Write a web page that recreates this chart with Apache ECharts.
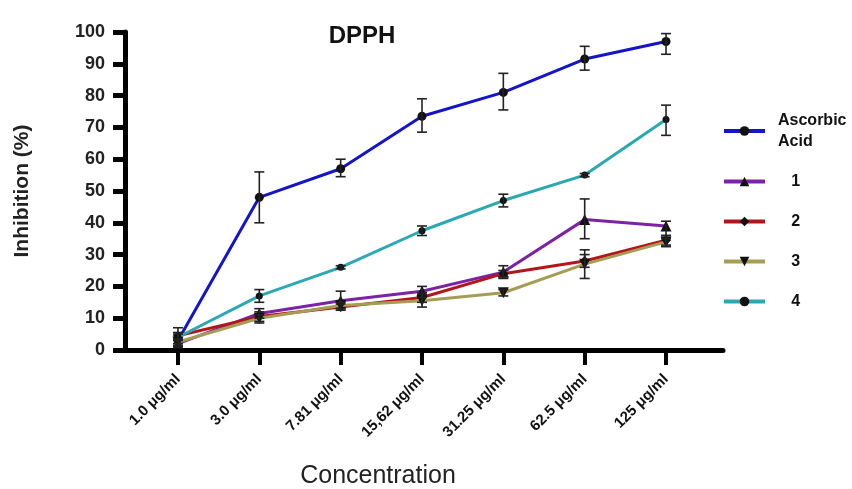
<!DOCTYPE html>
<html><head><meta charset="utf-8">
<script src="https://cdn.jsdelivr.net/npm/echarts@6/dist/echarts.min.js"></script>
<style>html,body{margin:0;padding:0;background:#fff}#c{width:852px;height:489px}</style>
</head><body><div id="c"></div>
<script>
const categories = ['1.0 μg/ml','3.0 μg/ml','7.81 μg/ml','15,62 μg/ml','31.25 μg/ml','62.5 μg/ml','125 μg/ml'];
const yTicks = [0,10,20,30,40,50,60,70,80,90,100];
const seriesNames = ['Ascorbic Acid','1','2','3','4'];
const ascorbic = [3, 48, 57, 73.5, 81, 91.5, 97];
const s1 = [2, 11.5, 15.5, 18.5, 24.5, 41, 39];
const s2 = [4.5, 10.5, 13.5, 16.5, 24, 28, 34.5];
const s3 = [2.5, 10, 14, 15.5, 18, 27, 34];
const s4 = [4, 17, 26, 37.5, 47, 55, 72.5];
const errAscorbic = [[1,5],[40,56],[54.5,60],[68.5,79],[75.5,87],[88,95.5],[93,99.5]];
const err1 = [[1,3],[10,13],[13,18.5],[16.5,20],[22.5,26.5],[35,47.5],[36,40.5]];
const err2 = [[3.5,5.5],[9,12],[12.5,14.5],[15,18],[23,25],[26,30],[33,36]];
const err3 = [[1.5,3.5],[8.5,11],[13,15],[13.5,17.5],[17,19],[22.5,31.5],[32.5,35]];
const err4 = [[2,7],[15,19],[25.5,26.5],[36,39],[45,49],[54.5,55.5],[67.5,77]];

const values = [ascorbic, s1, s2, s3, s4];
const errs = [errAscorbic, err1, err2, err3, err4];
const colors = ['#1414c8','#7b22a6','#b3161a','#a59d55','#2aa9b3'];
const symbols = ['circle','triangle','diamond','path://M0,0 L10,0 L5,9 Z','circle'];
const symSizes = [9, 11, 10, 11, 7];

const chart = echarts.init(document.getElementById('c'));
const series = [];
values.forEach((v, k) => {
  series.push({
    name: seriesNames[k], type: 'line', xAxisIndex: 1, yAxisIndex: 1,
    data: v, symbol: symbols[k], symbolSize: symSizes[k], showAllSymbol: true,
    lineStyle: {color: colors[k], width: 3}, itemStyle: {color: '#111'},
    z: 3 + k, animation: false
  });
  series.push({
    type: 'custom', xAxisIndex: 1, yAxisIndex: 1, z: 10, silent: true,
    data: errs[k].map((e, i) => [i, e[0], e[1]]),
    renderItem: function (params, api) {
      const lo = api.coord([api.value(0), api.value(1)]);
      const hi = api.coord([api.value(0), api.value(2)]);
      const cap = 5;
      const st = {stroke: '#222', lineWidth: 1.6};
      return {type: 'group', children: [
        {type: 'line', shape: {x1: lo[0], y1: lo[1], x2: hi[0], y2: hi[1]}, style: st},
        {type: 'line', shape: {x1: lo[0]-cap, y1: lo[1], x2: lo[0]+cap, y2: lo[1]}, style: st},
        {type: 'line', shape: {x1: hi[0]-cap, y1: hi[1], x2: hi[0]+cap, y2: hi[1]}, style: st}
      ]};
    },
    animation: false
  });
});

const font = 'Liberation Sans, Arial, sans-serif';
chart.setOption({
  backgroundColor: '#fff',
  animation: false,
  title: [
    {text: 'DPPH', left: 357, top: 19, textAlign: 'center',
     textStyle: {fontFamily: font, fontSize: 24, fontWeight: 'bold', color: '#111'}},
    {text: 'Concentration', left: 373, top: 459, textAlign: 'center',
     textStyle: {fontFamily: font, fontSize: 25, fontWeight: 'normal', color: '#222'}}
  ],
  legend: {
    orient: 'vertical', left: 717, top: 105, itemWidth: 41, itemHeight: 12, itemGap: 19,
    data: seriesNames,
    lineStyle: {width: 4},
    formatter: n => n === 'Ascorbic Acid' ? 'Ascorbic\nAcid' : '   ' + n,
    textStyle: {fontFamily: font, fontSize: 16, fontWeight: 'bold', color: '#111', lineHeight: 21, padding: [0,0,0,8]}
  },
  grid: [
    {left: 125, right: 129, top: 32, bottom: 139},
    {left: 137.3, right: 145.3, top: 32, bottom: 139}
  ],
  xAxis: [
    {type: 'value', gridIndex: 0, min: 0, max: 1, axisLine: {show: true, onZero: false, lineStyle: {color: '#000', width: 5}},
     axisTick: {show: false}, axisLabel: {show: false}, splitLine: {show: false}},
    {type: 'category', gridIndex: 1, data: categories, boundaryGap: true,
     axisLine: {show: false},
     axisTick: {show: true, alignWithLabel: true, length: 15, lineStyle: {color: '#000', width: 4}},
     axisLabel: {rotate: 45, margin: 27, fontFamily: font, fontSize: 15, fontWeight: 'bold', color: '#111'},
     splitLine: {show: false}}
  ],
  yAxis: [
    {type: 'value', gridIndex: 0, min: 0, max: 100, interval: 10,
     name: 'Inhibition (%)', nameLocation: 'middle', nameGap: 92,
     nameTextStyle: {fontFamily: font, fontSize: 21, fontWeight: 'bold', color: '#222'},
     axisLine: {show: true, lineStyle: {color: '#000', width: 5}},
     axisTick: {show: true, length: 12, lineStyle: {color: '#000', width: 5}},
     axisLabel: {margin: 20, fontFamily: font, fontSize: 18, fontWeight: 'bold', color: '#222',
       formatter: v => yTicks.includes(v) ? String(v) : ''},
     splitLine: {show: false}},
    {type: 'value', gridIndex: 1, min: 0, max: 100, interval: 10, show: false, splitLine: {show: false}}
  ],
  series: series
});
</script></body></html>
